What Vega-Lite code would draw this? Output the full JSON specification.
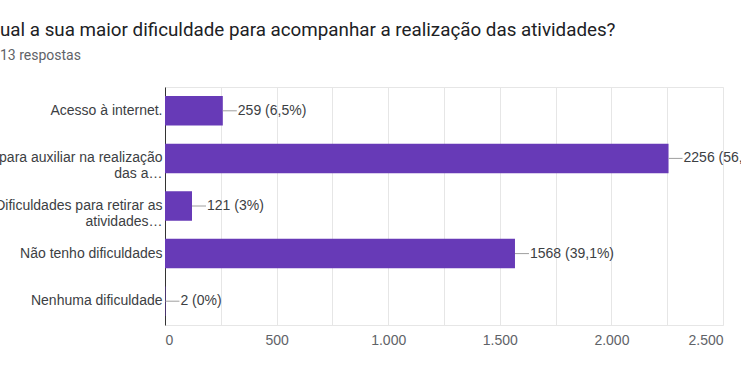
{
  "$schema": "https://vega.github.io/schema/vega-lite/v6.json",
  "width": 558,
  "height": 238,
  "autosize": {"type": "none"},
  "padding": {"left": 165, "top": 87, "right": 18, "bottom": 57},
  "background": "white",
  "config": {"view": {"stroke": "#e6e6e6"}, "font": "Liberation Sans"},
  "title": {
    "text": "ual  a sua maior dificuldade para acompanhar a realização das atividades?",
    "subtitle": "13 respostas",
    "anchor": "start",
    "frame": "group",
    "dx": -165,
    "font": "Roboto",
    "fontSize": 18.8,
    "fontWeight": "normal",
    "color": "#202124",
    "subtitleFont": "Roboto",
    "subtitleFontSize": 14,
    "subtitleColor": "#5f6368",
    "subtitlePadding": 9,
    "offset": 24
  },
  "data": {
    "values": [
      {"label": "Acesso à internet.", "count": 259, "text": "259 (6,5%)"},
      {"label": "para auxiliar na realização|das a…", "count": 2256, "text": "2256 (56,2%)"},
      {"label": "Dificuldades para retirar as|atividades…", "count": 121, "text": "121 (3%)"},
      {"label": "Não tenho dificuldades", "count": 1568, "text": "1568 (39,1%)"},
      {"label": "Nenhuma dificuldade", "count": 2, "text": "2 (0%)"}
    ]
  },
  "encoding": {
    "y": {
      "field": "label",
      "type": "nominal",
      "sort": null,
      "scale": {"paddingInner": 0.38, "paddingOuter": 0.19},
      "axis": {
        "title": null,
        "labelExpr": "split(datum.label, '|')",
        "labelFont": "Liberation Sans",
        "labelFontSize": 14,
        "labelColor": "#3c4043",
        "labelLineHeight": 16,
        "labelLimit": 300,
        "ticks": false,
        "labelPadding": 3,
        "domainColor": "#333333",
        "domainWidth": 1
      }
    }
  },
  "layer": [
    {
      "mark": {"type": "bar", "color": "#673ab7"},
      "encoding": {
        "x": {
          "field": "count",
          "type": "quantitative",
          "scale": {"domain": [0, 2500], "nice": false},
          "axis": {
            "title": null,
            "values": [0, 250, 500, 750, 1000, 1250, 1500, 1750, 2000, 2250, 2500],
            "labelExpr": "datum.value % 500 == 0 ? replace(format(datum.value, ','), ',', '.') : ''",
            "ticks": false,
            "domain": false,
            "gridColor": "#e6e6e6",
            "labelFont": "Liberation Sans",
            "labelFontSize": 14,
            "labelColor": "#5f6368",
            "labelPadding": 8
          }
        }
      }
    },
    {
      "mark": {"type": "rule", "color": "#9e9e9e", "x2Offset": 14},
      "encoding": {
        "x": {"field": "count", "type": "quantitative"},
        "x2": {"field": "count"}
      }
    },
    {
      "mark": {"type": "text", "align": "left", "baseline": "middle", "dx": 15, "font": "Liberation Sans", "fontSize": 14, "color": "#3c4043"},
      "encoding": {
        "x": {"field": "count", "type": "quantitative"},
        "text": {"field": "text"}
      }
    }
  ]
}
